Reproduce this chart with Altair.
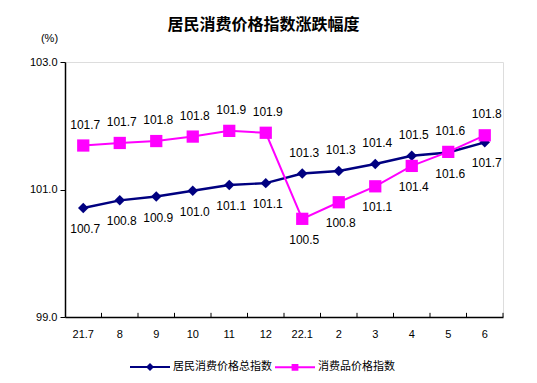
import altair as alt
import pandas as pd

months = ["21.7", "8", "9", "10", "11", "12", "22.1", "2", "3", "4", "5", "6"]
series_names = ["居民消费价格总指数", "消费品价格指数"]
cpi_values = [100.71, 100.83, 100.89, 100.98, 101.07, 101.10, 101.25, 101.29, 101.40, 101.53, 101.58, 101.74]
goods_values = [101.69, 101.73, 101.76, 101.83, 101.92, 101.89, 100.54, 100.80, 101.05, 101.37, 101.59, 101.85]
cpi_labels = ["100.7", "100.8", "100.9", "101.0", "101.1", "101.1", "101.3", "101.3", "101.4", "101.5", "101.6", "101.7"]
goods_labels = ["101.7", "101.7", "101.8", "101.8", "101.9", "101.9", "100.5", "100.8", "101.1", "101.4", "101.6", "101.8"]
y_ticks = [99.0, 101.0, 103.0]
colors = ["#000080", "#FF00FF"]

rows = []
for i, m in enumerate(months):
    a, b = cpi_values[i], goods_values[i]
    rows.append({"month": m, "series": series_names[0], "value": a, "label": cpi_labels[i], "above": a > b})
    rows.append({"month": m, "series": series_names[1], "value": b, "label": goods_labels[i], "above": b >= a})
df = pd.DataFrame(rows)
ticks_df = pd.DataFrame({"month": months})

font = "Liberation Sans"

x_scale = alt.Scale(type="band", paddingInner=0, paddingOuter=0, domain=months)
x_axis = alt.Axis(
    title=None, labelAngle=0, ticks=False, labelFont=font, labelFontSize=11,
    labelColor="black", domainColor="black", labelPadding=11, domainWidth=1.5,
)
x = alt.X("month:N", sort=months, scale=x_scale, axis=x_axis)
y = alt.Y(
    "value:Q",
    scale=alt.Scale(domain=[99, 103], nice=False, zero=False),
    axis=alt.Axis(
        values=y_ticks, format=".1f", title="(%)", titleAngle=0, titleX=-16, titleY=-24,
        titleAlign="center", titleBaseline="middle", titleFontWeight="normal",
        titleFont=font, titleFontSize=11, labelFont=font, labelFontSize=11,
        labelColor="black", grid=False, domainColor="black", tickColor="black",
        tickSize=5, labelPadding=3, domainWidth=1.5,
    ),
)

# inward x ticks at band boundaries
tick_rules = alt.Chart(ticks_df).mark_rule(color="black", strokeWidth=1).encode(
    x=alt.X("month:N", sort=months, scale=x_scale, bandPosition=1, axis=x_axis),
    y=alt.datum(99), y2=alt.datum(99.065),
)

def series_layers(name, color, shape, size, width):
    base = alt.Chart(df).transform_filter(alt.datum.series == name)
    ln = base.mark_line(color=color, strokeWidth=width).encode(x=x, y=y)
    pt = base.mark_point(filled=True, opacity=1, color=color, shape=shape, size=size).encode(x=x, y=y)
    return ln, pt

l1, p1 = series_layers(series_names[0], colors[0], "diamond", 110, 2.4)
l2, p2 = series_layers(series_names[1], colors[1], "square", 150, 2.0)

# legend (line + marker symbols), invisible marks
legend_shapes = [
    "M-1,-0.05H1V0.05H-1Z M0,-0.2L0.2,0L0,0.2L-0.2,0Z",
    "M-1,-0.05H1V0.05H-1Z M-0.17,-0.17H0.17V0.17H-0.17Z",
]
legend_props = dict(
    title=None, orient="none", legendX=64, legendY=284, direction="horizontal",
    labelFont="Noto Sans CJK SC", labelFontSize=11, labelColor="black",
    symbolSize=1600, symbolOpacity=1, labelOffset=2, columnPadding=0,
)
legend_layer = alt.Chart(df).mark_point(filled=True, opacity=0).encode(
    x=x, y=y,
    color=alt.Color("series:N", scale=alt.Scale(domain=series_names, range=colors),
                    legend=alt.Legend(**legend_props)),
    shape=alt.Shape("series:N", scale=alt.Scale(domain=series_names, range=legend_shapes),
                    legend=alt.Legend(**legend_props)),
)

above = alt.Chart(df).transform_filter("datum.above").mark_text(
    dy=-21, dx=2, font=font, fontSize=12, color="black"
).encode(x=x, y=y, text="label:N")
below = alt.Chart(df).transform_filter("!datum.above").mark_text(
    dy=21, dx=2, font=font, fontSize=12, color="black"
).encode(x=x, y=y, text="label:N")

chart = alt.layer(tick_rules, l1, l2, p1, p2, legend_layer, above, below).properties(
    width=438, height=255,
    title=alt.TitleParams(
        "居民消费价格指数涨跌幅度", anchor="start", dx=138, dy=19, offset=2, baseline="bottom",
        font="Noto Sans CJK SC", fontSize=16, fontWeight="bold", color="black",
    ),
    autosize=alt.AutoSizeParams(type="none"),
    padding={"left": 57, "top": 54, "right": 20, "bottom": 58},
).configure_view(stroke=None).configure(background="white")

chart.save("out.html", embed_options={"renderer": "svg", "actions": False})
